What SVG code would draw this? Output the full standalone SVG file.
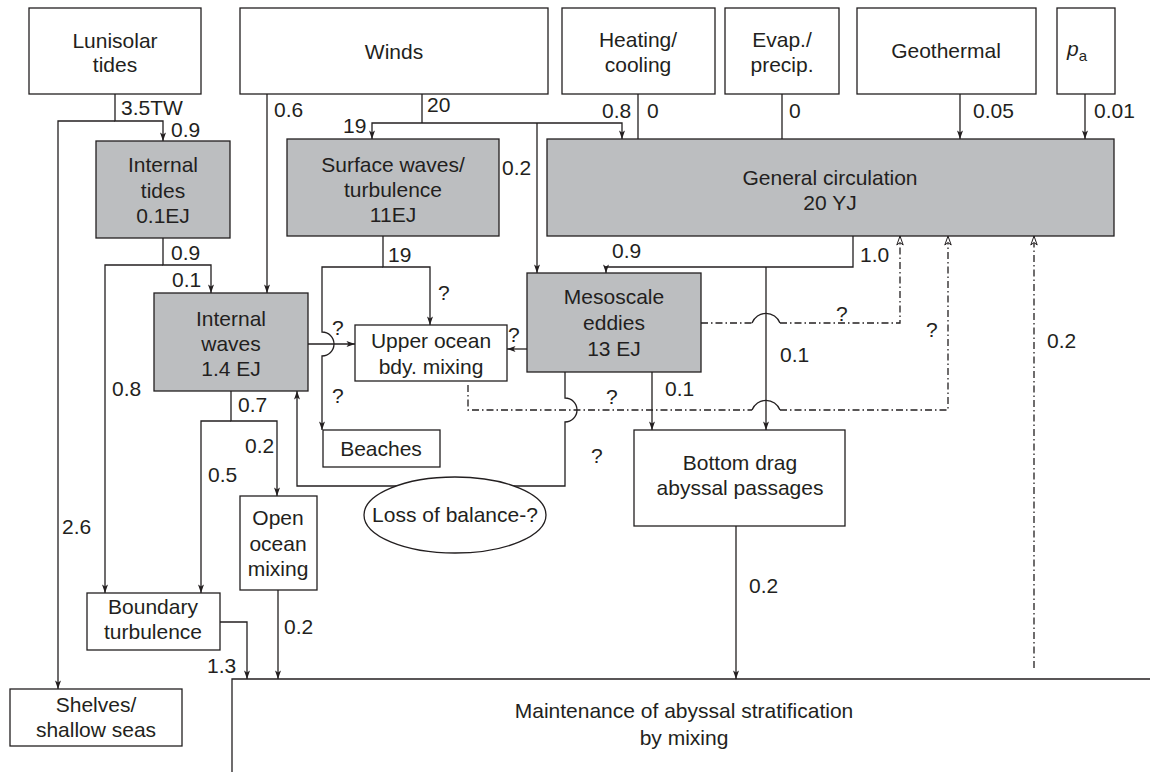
<svg xmlns="http://www.w3.org/2000/svg" width="1150" height="772" viewBox="0 0 1150 772">
<style>
  .box { fill: #ffffff; stroke: #231f20; stroke-width: 1.3; }
  .gray { fill: #bcbec0; stroke: #231f20; stroke-width: 1.3; }
  text { font-family: "Liberation Sans", Arial, sans-serif; font-size: 21px; fill: #231f20; }
  .c { text-anchor: middle; }
  .ln { fill: none; stroke: #231f20; stroke-width: 1.3; }
  .arr { marker-end: url(#ah); }
  .dash { fill: none; stroke: #231f20; stroke-width: 1.3; stroke-dasharray: 7 3 1.5 3; }
  .oarr { marker-end: url(#oh); }
</style>
<defs>
  <marker id="ah" markerUnits="userSpaceOnUse" viewBox="-9 -4 10 8" refX="0" refY="0" markerWidth="10" markerHeight="8" orient="auto">
    <path d="M0,0 L-8.5,-3 L-6.5,0 L-8.5,3 Z" fill="#231f20"/>
  </marker>
  <marker id="oh" markerUnits="userSpaceOnUse" viewBox="-11 -5 12 10" refX="0" refY="0" markerWidth="12" markerHeight="10" orient="auto">
    <path d="M0,0 L-9,-3.2 L-6.5,0 L-9,3.2 Z" fill="#ffffff" stroke="#231f20" stroke-width="1"/>
  </marker>
</defs>

<g id="connectors">
  <!-- Lunisolar tides -->
  <path class="ln arr" d="M115,94 V121 H163 V141"/>
  <path class="ln arr" d="M115,121 H58 V689"/>
  <!-- Winds -->
  <path class="ln arr" d="M267,94 V293"/>
  <path class="ln" d="M422,94 V123"/>
  <path class="ln arr" d="M422,123 H372 V139"/>
  <path class="ln arr" d="M422,123 H622 V139"/>
  <path class="ln arr" d="M537,123 V273"/>
  <!-- Heating, Evap, Geothermal, pa -->
  <path class="ln" d="M638,94 V139"/>
  <path class="ln" d="M782,94 V139"/>
  <path class="ln arr" d="M960,94 V139"/>
  <path class="ln arr" d="M1085,94 V139"/>
  <!-- Internal tides -->
  <path class="ln arr" d="M163,238 V265 H211 V293"/>
  <path class="ln arr" d="M163,265 H105 V593"/>
  <!-- Internal waves -->
  <path class="ln arr" d="M231,391 V421 H277 V496"/>
  <path class="ln arr" d="M231,421 H201 V593"/>
  <path class="ln arr" d="M308,344 H355"/>
  <!-- Surface waves -->
  <path class="ln arr" d="M383,236 V267 H430 V325"/>
  <path class="ln arr" d="M383,267 H322 V332 A12,12 0 0 1 322,356 V430"/>
  <!-- Mesoscale -->
  <path class="ln arr" d="M527,349 H507"/>
  <path class="ln arr" d="M652,372 V430"/>
  <path class="ln arr" d="M565,372 V398 A12,12 0 0 1 565,422 V486 H297 V391"/>
  <!-- General circulation -->
  <path class="ln arr" d="M853,236 V267 H606 V273"/>
  <path class="ln arr" d="M766,267 V430"/>
  <!-- dashed feedbacks -->
  <path class="dash" d="M701,323 H752"/>
  <path class="ln" d="M752,323 A15,15 0 0 1 780,323"/>
  <path class="dash oarr" d="M780,323 H900 V236"/>
  <path class="dash" d="M468,385 V410 H752"/>
  <path class="ln" d="M752,410 A15,15 0 0 1 780,410"/>
  <path class="dash oarr" d="M780,410 H948 V236"/>
  <path class="dash oarr" d="M1034,668 V236"/>
  <!-- to maintenance -->
  <path class="ln arr" d="M278,590 V679"/>
  <path class="ln arr" d="M220,622 H247 V679"/>
  <path class="ln arr" d="M736,526 V679"/>
</g>

<g id="labels">
  <text x="121" y="115">3.5TW</text>
  <text x="171" y="137">0.9</text>
  <text x="274" y="117">0.6</text>
  <text x="427" y="112">20</text>
  <text x="343" y="133">19</text>
  <text x="602" y="118">0.8</text>
  <text x="647" y="118">0</text>
  <text x="789" y="118">0</text>
  <text x="973" y="118">0.05</text>
  <text x="1094" y="118">0.01</text>
  <text x="502" y="175">0.2</text>
  <text x="171" y="260">0.9</text>
  <text x="172" y="287">0.1</text>
  <text x="388" y="262">19</text>
  <text x="438" y="300">?</text>
  <text x="332" y="335">?</text>
  <text x="508" y="342">?</text>
  <text x="612" y="258">0.9</text>
  <text x="860" y="262">1.0</text>
  <text x="836" y="321">?</text>
  <text x="926" y="337">?</text>
  <text x="1047" y="348">0.2</text>
  <text x="780" y="362">0.1</text>
  <text x="665" y="396">0.1</text>
  <text x="606" y="404">?</text>
  <text x="332" y="403">?</text>
  <text x="112" y="396">0.8</text>
  <text x="238" y="412">0.7</text>
  <text x="245" y="453">0.2</text>
  <text x="208" y="482">0.5</text>
  <text x="591" y="463">?</text>
  <text x="62" y="534">2.6</text>
  <text x="284" y="634">0.2</text>
  <text x="207" y="673">1.3</text>
  <text x="749" y="593">0.2</text>
</g>

<g id="lunisolar">
  <rect class="box" x="29" y="8" width="172" height="86"/>
  <text class="c" x="115" y="48">Lunisolar</text>
  <text class="c" x="115" y="72">tides</text>
</g>
<g id="winds">
  <rect class="box" x="240" y="8" width="308" height="86"/>
  <text class="c" x="394" y="59">Winds</text>
</g>
<g id="heating">
  <rect class="box" x="562" y="8" width="153" height="86"/>
  <text class="c" x="638" y="47">Heating/</text>
  <text class="c" x="638" y="72">cooling</text>
</g>
<g id="evap">
  <rect class="box" x="725" y="8" width="114" height="86"/>
  <text class="c" x="782" y="47">Evap./</text>
  <text class="c" x="782" y="72">precip.</text>
</g>
<g id="geothermal">
  <rect class="box" x="857" y="8" width="179" height="86"/>
  <text class="c" x="946" y="58">Geothermal</text>
</g>
<g id="pa">
  <rect class="box" x="1057" y="8" width="58" height="86"/>
  <text x="1067" y="56"><tspan font-style="italic">p</tspan><tspan font-size="15" dy="5">a</tspan></text>
</g>
<g id="internal-tides">
  <rect class="gray" x="96" y="141" width="134" height="97"/>
  <text class="c" x="163" y="172">Internal</text>
  <text class="c" x="163" y="198">tides</text>
  <text class="c" x="163" y="223">0.1EJ</text>
</g>
<g id="surface-waves">
  <rect class="gray" x="287" y="139" width="212" height="97"/>
  <text class="c" x="393" y="172">Surface waves/</text>
  <text class="c" x="393" y="197">turbulence</text>
  <text class="c" x="393" y="222">11EJ</text>
</g>
<g id="general-circulation">
  <rect class="gray" x="547" y="139" width="567" height="97"/>
  <text class="c" x="830" y="185">General circulation</text>
  <text class="c" x="830" y="210">20 YJ</text>
</g>
<g id="internal-waves">
  <rect class="gray" x="154" y="293" width="154" height="98"/>
  <text class="c" x="231" y="326">Internal</text>
  <text class="c" x="231" y="351">waves</text>
  <text class="c" x="231" y="376">1.4 EJ</text>
</g>
<g id="upper-ocean">
  <rect class="box" x="355" y="325" width="152" height="56"/>
  <text class="c" x="431" y="348">Upper ocean</text>
  <text class="c" x="431" y="374">bdy. mixing</text>
</g>
<g id="mesoscale">
  <rect class="gray" x="527" y="273" width="174" height="99"/>
  <text class="c" x="614" y="304">Mesoscale</text>
  <text class="c" x="614" y="330">eddies</text>
  <text class="c" x="614" y="356">13 EJ</text>
</g>
<g id="beaches">
  <rect class="box" x="323" y="430" width="117" height="37"/>
  <text class="c" x="381" y="456">Beaches</text>
</g>
<g id="loss-of-balance">
  <ellipse class="box" cx="455" cy="515" rx="91" ry="38"/>
  <text class="c" x="455" y="522">Loss of balance-?</text>
</g>
<g id="bottom-drag">
  <rect class="box" x="634" y="430" width="211" height="96"/>
  <text class="c" x="740" y="470">Bottom drag</text>
  <text class="c" x="740" y="495">abyssal passages</text>
</g>
<g id="open-ocean">
  <rect class="box" x="240" y="496" width="77" height="94"/>
  <text class="c" x="278" y="525">Open</text>
  <text class="c" x="278" y="551">ocean</text>
  <text class="c" x="278" y="576">mixing</text>
</g>
<g id="boundary-turbulence">
  <rect class="box" x="87" y="593" width="133" height="57"/>
  <text class="c" x="153" y="614">Boundary</text>
  <text class="c" x="153" y="639">turbulence</text>
</g>
<g id="shelves">
  <rect class="box" x="10" y="689" width="172" height="57"/>
  <text class="c" x="96" y="712">Shelves/</text>
  <text class="c" x="96" y="737">shallow seas</text>
</g>
<g id="maintenance">
  <path class="ln" d="M232,772 V679 H1150"/>
  <text class="c" x="684" y="718">Maintenance of abyssal stratification</text>
  <text class="c" x="684" y="745">by mixing</text>
</g>
</svg>
